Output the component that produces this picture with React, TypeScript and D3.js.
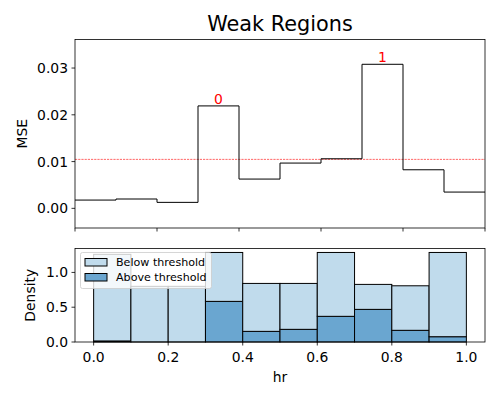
import React from "react";
import * as d3 from "d3";

const mseValues = [0.00177, 0.0020, 0.00128, 0.0219, 0.00626, 0.00968, 0.0106, 0.0308, 0.00825, 0.00348];
const threshold = 0.01047;
const weakRegions = [
  { bin: 3, label: "0" },
  { bin: 7, label: "1" },
];
const topYTicks = [0.0, 0.01, 0.02, 0.03];
const topXTicks = [0, 2, 4, 6, 8, 10];

const binEdges = [0, 0.1, 0.2, 0.3, 0.4, 0.5, 0.6, 0.7, 0.8, 0.9, 1.0];
const aboveDensity = [0.015, 0, 0, 0.584, 0.153, 0.182, 0.369, 0.469, 0.168, 0.076];
const totalDensity = [1.26, 0.80, 0.80, 1.287, 0.842, 0.842, 1.287, 0.828, 0.808, 1.287];
const bottomXTicks = [0.0, 0.2, 0.4, 0.6, 0.8, 1.0];
const bottomYTicks = [0.0, 0.5, 1.0];

const LIGHT = "#c0dbec";
const DARK = "#6aa6d0";
const FONT = "DejaVu Sans, sans-serif";
const FS = 13.9;

export default function App() {
  const W = 500, H = 400;
  const L = 75, R = 485;
  const t1 = 39.5, b1 = 228;
  const t2 = 248.5, b2 = 342;

  const x1 = d3.scaleLinear().domain([0, 10]).range([L, R]);
  const y1 = d3.scaleLinear().domain([-0.0042, 0.0361]).range([b1, t1]);
  const x2 = d3.scaleLinear().domain([-0.05, 1.05]).range([L, R]);
  const y2 = d3.scaleLinear().domain([0, 1.344]).range([b2, t2]);

  const stepPts: [number, number][] = [];
  mseValues.forEach((v, i) => {
    stepPts.push([i, v]);
    stepPts.push([i + 1, v]);
  });
  const line = d3
    .line<[number, number]>()
    .x((d) => x1(d[0]))
    .y((d) => y1(d[1]));

  return (
    <svg width={W} height={H} style={{ display: "block", position: "absolute", left: 0, top: 0 }} fontFamily={FONT}>
      <rect x={0} y={0} width={W} height={H} fill="white" />
      <text x={(L + R) / 2} y={31} fontSize={20.8} textAnchor="middle">Weak Regions</text>

      {/* Top panel */}
      <defs>
        <clipPath id="clip1">
          <rect x={L} y={t1} width={R - L} height={b1 - t1} />
        </clipPath>
      </defs>
      <line x1={L} x2={R} y1={y1(threshold)} y2={y1(threshold)} stroke="red" strokeWidth={0.6} strokeDasharray="2.2,1" />
      <path d={line(stepPts) || ""} fill="none" stroke="black" strokeWidth={1} clipPath="url(#clip1)" />
      {weakRegions.map((w) => (
        <text key={w.label} x={x1(w.bin + 0.5)} y={y1(mseValues[w.bin]) - 2} fontSize={FS} fill="red" textAnchor="middle">
          {w.label}
        </text>
      ))}
      <rect x={L} y={t1} width={R - L} height={b1 - t1} fill="none" stroke="black" strokeWidth={0.8} />
      {topYTicks.map((t) => (
        <g key={t}>
          <line x1={L - 3.5} x2={L} y1={y1(t)} y2={y1(t)} stroke="black" strokeWidth={0.8} />
          <text x={L - 7} y={y1(t)} dy="0.36em" fontSize={FS} textAnchor="end">{t.toFixed(2)}</text>
        </g>
      ))}
      {topXTicks.map((t) => (
        <line key={t} x1={x1(t)} x2={x1(t)} y1={b1} y2={b1 + 3.5} stroke="black" strokeWidth={0.8} />
      ))}
      <text transform={`translate(27,${(t1 + b1) / 2}) rotate(-90)`} fontSize={FS} textAnchor="middle">MSE</text>

      {/* Bottom panel */}
      {binEdges.slice(0, -1).map((e, i) => (
        <g key={i}>
          <rect
            x={x2(e)}
            y={y2(aboveDensity[i])}
            width={x2(binEdges[i + 1]) - x2(e)}
            height={y2(0) - y2(aboveDensity[i])}
            fill={DARK}
            stroke="black"
            strokeWidth={1}
          />
          <rect
            x={x2(e)}
            y={y2(totalDensity[i])}
            width={x2(binEdges[i + 1]) - x2(e)}
            height={y2(aboveDensity[i]) - y2(totalDensity[i])}
            fill={LIGHT}
            stroke="black"
            strokeWidth={1}
          />
        </g>
      ))}
      <rect x={L} y={t2} width={R - L} height={b2 - t2} fill="none" stroke="black" strokeWidth={0.8} />
      {bottomYTicks.map((t) => (
        <g key={t}>
          <line x1={L - 3.5} x2={L} y1={y2(t)} y2={y2(t)} stroke="black" strokeWidth={0.8} />
          <text x={L - 7} y={y2(t)} dy="0.36em" fontSize={FS} textAnchor="end">{t.toFixed(1)}</text>
        </g>
      ))}
      {bottomXTicks.map((t) => (
        <g key={t}>
          <line x1={x2(t)} x2={x2(t)} y1={b2} y2={b2 + 3.5} stroke="black" strokeWidth={0.8} />
          <text x={x2(t)} y={b2 + 20} fontSize={FS} textAnchor="middle">{t.toFixed(1)}</text>
        </g>
      ))}
      <text x={(L + R) / 2} y={382} fontSize={FS} textAnchor="middle">hr</text>
      <text transform={`translate(35,${(t2 + b2) / 2}) rotate(-90)`} fontSize={FS} textAnchor="middle">Density</text>

      {/* Legend */}
      <g>
        <rect x={80.5} y={252.5} width={131} height={36} rx={2} fill="white" fillOpacity={0.8} stroke="#cccccc" strokeWidth={0.8} />
        <rect x={85} y={258.5} width={22} height={7.5} fill={LIGHT} stroke="black" strokeWidth={1} />
        <text x={116} y={266} fontSize={11.1}>Below threshold</text>
        <rect x={85} y={273.5} width={22} height={7.5} fill={DARK} stroke="black" strokeWidth={1} />
        <text x={116} y={281} fontSize={11.1}>Above threshold</text>
      </g>
    </svg>
  );
}
